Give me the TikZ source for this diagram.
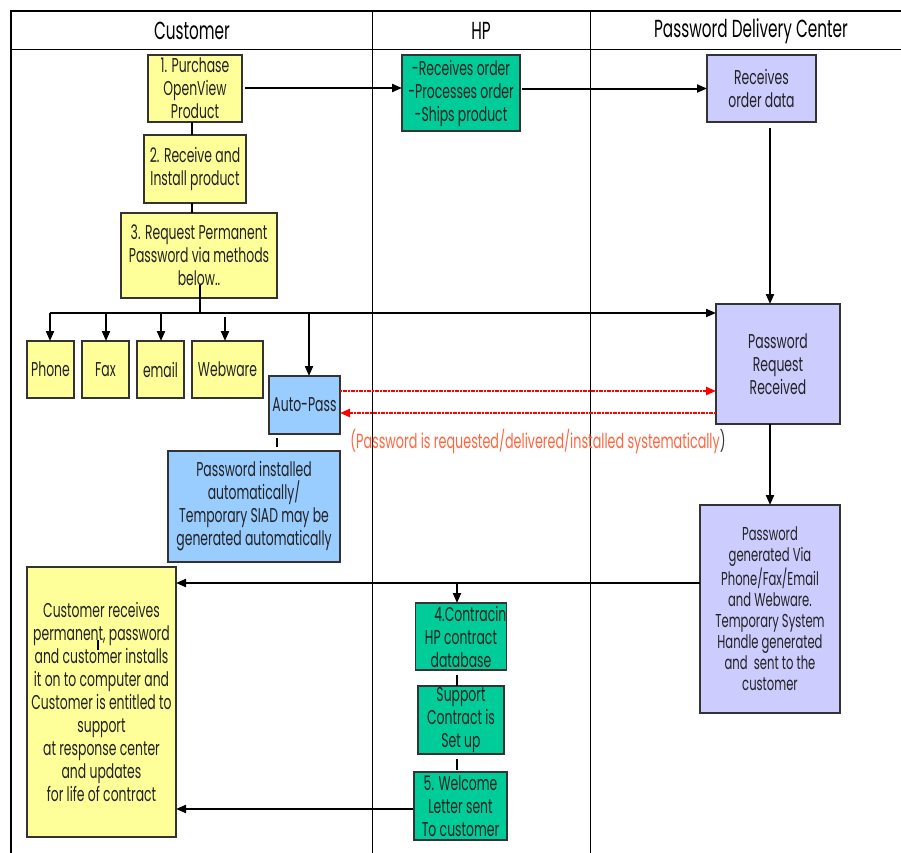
\documentclass[tikz,border=0pt]{standalone}
\usepackage{fontspec}
\setmainfont[FakeStretch=0.62]{Poppins}
\usetikzlibrary{arrows.meta}
\definecolor{cyel}{HTML}{FFFF99}
\definecolor{cgrn}{HTML}{00CC99}
\definecolor{cblu}{HTML}{99CCFF}
\definecolor{clav}{HTML}{CCCCFF}
\definecolor{cedge}{HTML}{333333}
\definecolor{ctxt}{HTML}{222222}
\definecolor{cnote}{HTML}{FF6640}
\definecolor{cred}{HTML}{FF0000}
\tikzset{
  box/.style={draw=cedge,line width=0.8pt,inner sep=0pt,outer sep=0pt,align=center,
    text=ctxt,font=\fontsize{15}{17.25}\selectfont},
  ybox/.style={box,fill=cyel},
  gbox/.style={box,fill=cgrn},
  bbox/.style={box,fill=cblu},
  lbox/.style={box,fill=clav},
  arr/.style={line width=1.5pt,-{Triangle[length=7.5pt,width=6pt]}},
  thinline/.style={line width=0.8pt},
  redarr/.style={cred,line width=1.8pt,dash pattern=on 1.6pt off 0.4pt,
    -{Triangle[length=7.5pt,width=6pt]}},
  lane/.style={line width=0.75pt},
  frame/.style={line width=2.2pt},
  head/.style={font=\fontsize{18.5}{21}\selectfont,text=black}
}
\begin{document}
\begin{tikzpicture}[x=0.75pt,y=-0.75pt]
\useasboundingbox (0,0) rectangle (901,853);
% frame and lanes
\draw[lane] (11,49) -- (901,49);
\draw[lane] (372,11) -- (372,853);
\draw[lane] (590,11) -- (590,853);
\draw[frame] (11,853) -- (11,11) -- (901,11);
\node[head] (hc) at (192,31) {Customer};
\node[head] (hh) at (481,31) {HP};
\node[head] (hd) at (751,31) {Password Delivery Center};

% customer lane
\node[ybox,minimum width=70.5pt,minimum height=50.25pt] (b1) at (195,88.5) {1. Purchase\\OpenView\\Product};
\node[ybox,minimum width=76.5pt,minimum height=51pt] (b2) at (195,169) {2. Receive and\\Install product};
\node[ybox,minimum width=117pt,minimum height=63.75pt] (b3) at (199,255.5) {3. Request Permanent\\Password via methods\\below..};
\node[ybox,minimum width=35.25pt,minimum height=42.75pt] (phone) at (50.5,369.5) {Phone};
\node[ybox,minimum width=35.25pt,minimum height=42.75pt] (fax) at (105.5,369.5) {Fax};
\node[ybox,minimum width=35.25pt,minimum height=42.75pt] (email) at (160.5,369.5) {email};
\node[ybox,minimum width=53.25pt,minimum height=42.75pt] (web) at (227.5,369.5) {Webware};
\node[bbox,minimum width=53.25pt,minimum height=43.5pt] (auto) at (304.5,405) {Auto-Pass};
\node[bbox,minimum width=129pt,minimum height=83.25pt] (pia) at (254,506.5) {Password installed\\automatically/\\Temporary SIAD may be\\generated automatically};
\node[ybox,minimum width=111.75pt,minimum height=202.5pt] (cr) at (101.5,702) {\raisebox{-1pt}{\parbox{110pt}{\centering Customer receives\\permanent, password\\and customer installs\\it on to computer and\\Customer is entitled to\\support\\at response center\\and updates\\for life of contract}}};

% HP lane
\node[gbox,minimum width=88.5pt,minimum height=57pt] (hp) at (461,93) {-Receives order\\-Processes order\\-Ships product};
\node[gbox,minimum width=64.5pt,minimum height=50.25pt] (c4) at (461,636.5) {\hspace*{14pt}4.Contracin\\HP contract\\database};
\node[gbox,minimum width=64.5pt,minimum height=51pt] (sc) at (461,720) {Support\\Contract is\\Set up};
\node[gbox,minimum width=69.75pt,minimum height=51pt] (c5) at (460.5,806) {5. Welcome\\Letter sent\\To customer};

% PDC lane
\node[lbox,minimum width=81.75pt,minimum height=50.25pt] (rod) at (761.5,88.5) {Receives\\order data};
\node[lbox,minimum width=93pt,minimum height=90pt] (prr) at (778,364) {Password\\Request\\Received};
\node[lbox,minimum width=105pt,minimum height=156pt,font=\fontsize{14}{15.75}\selectfont] (pgv) at (770,609) {\raisebox{-3pt}{\parbox{104pt}{\centering Password\\generated Via\\Phone/Fax/Email\\and Webware.\\Temporary System\\Handle generated\\and\ \ sent to the\\customer}}};

% note
\node[text=cnote,font=\fontsize{15.4}{17.5}\selectfont,inner sep=0pt] (note) at (538,441) {(Password is requested/delivered/installed systematically\textcolor{cedge}{)}};

% coordinates
\coordinate (ybr) at (0,313);
\coordinate (ja) at (50,313);
\coordinate (jb) at (260,313);
\coordinate (xv) at (770,0);
\coordinate (r1) at (0,391);
\coordinate (r2) at (0,413);
\coordinate (xt) at (277,0);
\coordinate (yg) at (0,583);
\coordinate (xg) at (457,0);
\coordinate (yw) at (0,809);
\coordinate (x1) at (192,0);
\coordinate (x3) at (200,0);

% connectors
\draw[arr] ([xshift=2.25pt]b1.east |- 0,88) -- (hp.west |- 0,88);
\draw[arr] ([xshift=1.5pt]hp.east |- rod.west) -- (rod.west);
\draw[arr,shorten <=4.5pt] (rod.south -| xv) -- (prr.north -| xv);
\draw[arr] (prr.south -| xv) -- (pgv.north -| xv);
\draw[thinline] (b1.south -| x1) -- (b2.north -| x1);
\draw[thinline] (b2.south -| x1) -- (b3.north -| x1);
\draw[thinline] (x3 |- 0,285) -- (x3 |- ybr);
\draw[thinline] (ja) -- (jb);
\draw[arr] (jb) -- (prr.west |- ybr);
\draw[arr] (ja) -- (phone.north -| ja);
\draw[arr] (106,313) -- (fax.north -| 106,0);
\draw[arr] (161,313) -- (email.north -| 161,0);
\draw[arr] (225,317) -- (web.north -| 225,0);
\draw[arr] (309,313) -- (auto.north -| 309,0);
\draw[redarr] (auto.east |- r1) -- (prr.west |- r1);
\draw[redarr] (prr.west |- r2) -- (auto.east |- r2);
\draw[thinline,shorten <=3pt,shorten >=3pt] (auto.south -| xt) -- (pia.north -| xt);
\draw[arr] (pgv.west |- yg) -- (cr.east |- yg);
\draw[arr] (xg |- yg) -- (c4.north -| xg);
\draw[thinline,shorten <=4pt,shorten >=0pt] (c4.south -| xg) -- (sc.north -| xg);
\draw[thinline,shorten <=4pt,shorten >=1.5pt] (sc.south -| xg) -- (c5.north -| xg);
\draw[arr] ([xshift=-0.75pt]c5.west |- yw) -- (cr.east |- yw);
\draw[thinline] (98,640) -- (98,650);
\end{tikzpicture}
\end{document}
